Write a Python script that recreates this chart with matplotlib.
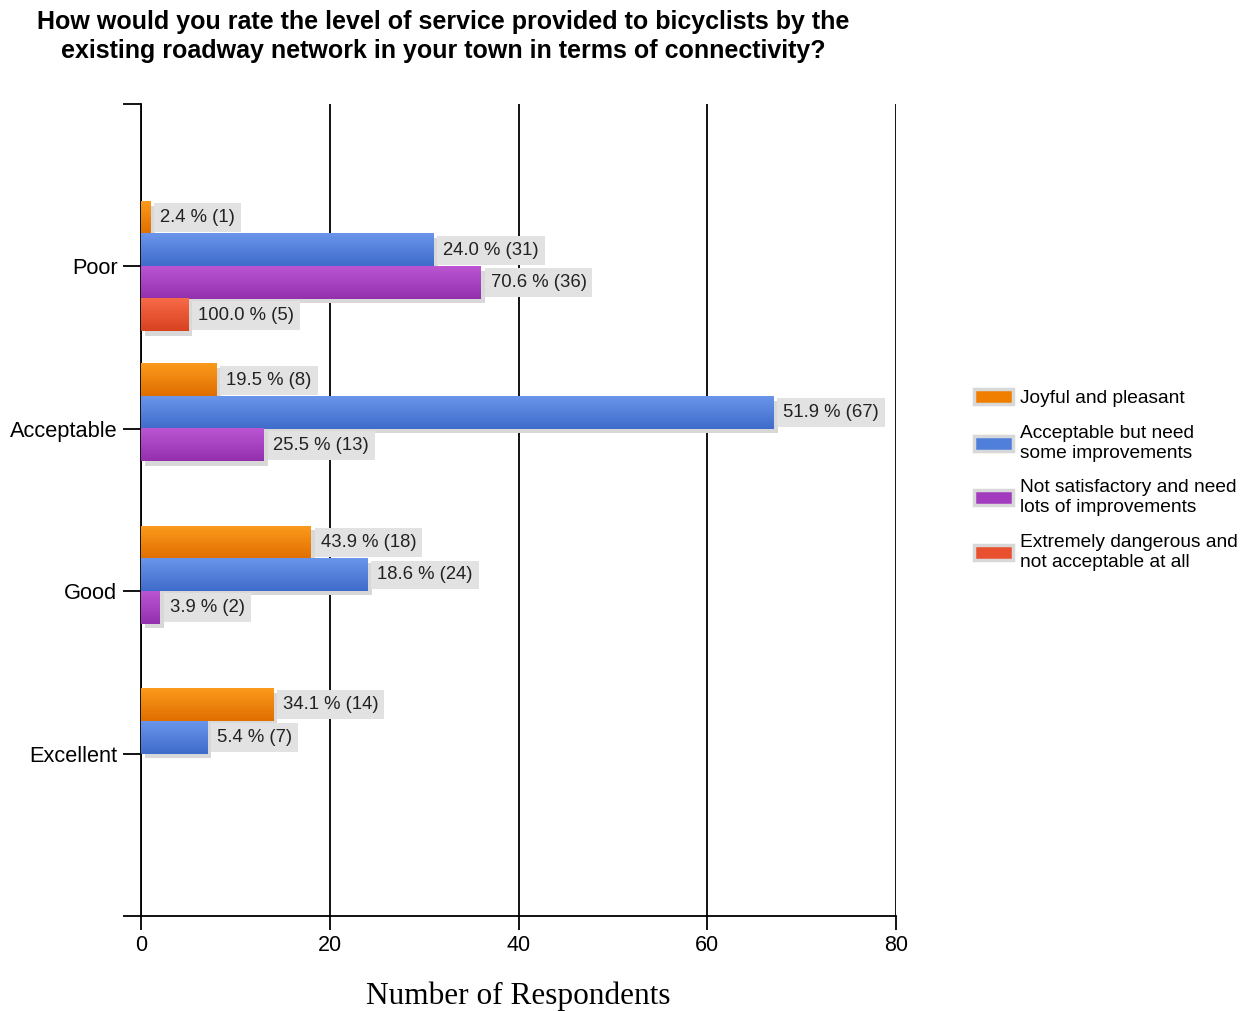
import matplotlib
import matplotlib.pyplot as plt
import matplotlib.patheffects as pe
from matplotlib.patches import Patch
from matplotlib.colors import LinearSegmentedColormap
import numpy as np

plt.switch_backend('agg')

# data
categories = ['Poor', 'Acceptable', 'Good', 'Excellent']
series = ['Joyful and pleasant',
          'Acceptable but need\nsome improvements',
          'Not satisfactory and need\nlots of improvements',
          'Extremely dangerous and\nnot acceptable at all']
counts = [
    [1, 8, 18, 14],    # joyful
    [31, 67, 24, 7],   # acceptable but need some
    [36, 13, 2, 0],    # not satisfactory
    [5, 0, 0, 0],      # extremely dangerous
]
pcts = [
    [2.4, 19.5, 43.9, 34.1],
    [24.0, 51.9, 18.6, 5.4],
    [70.6, 25.5, 3.9, None],
    [100.0, None, None, None],
]
colors = ['#f07f00', '#4f7fdb', '#a33bbf', '#e8502f']
light = ['#fb9a1c', '#6a95ea', '#bb55d2', '#f76a48']
dark = ['#e06e00', '#3f6ccb', '#9330ae', '#d8421f']

fig = plt.figure(figsize=(12.48, 10.11), dpi=100)
ax = fig.add_axes([0.113, 0.094, 0.605, 0.803])

ypos = np.arange(1, len(categories) + 1)
h = 0.2
offs = [-0.3, -0.1, 0.1, 0.3]
shadow = [pe.SimplePatchShadow(offset=(3, -3), shadow_rgbFace='#d8d8d8', alpha=1.0), pe.Normal()]

for i in range(len(series)):
    bars = ax.barh(ypos + offs[i], counts[i], height=h, color=colors[i],
                   edgecolor='none', zorder=3, path_effects=shadow)
    cmap = LinearSegmentedColormap.from_list('g%d' % i, [light[i], dark[i]])
    for j, b in enumerate(bars):
        w = counts[i][j]
        if w > 0:
            y0 = b.get_y()
            # light at top, dark at bottom (y axis is inverted)
            ax.imshow(np.linspace(1, 0, 50).reshape(-1, 1), cmap=cmap, aspect='auto',
                      extent=[0, w, y0, y0 + h], origin='upper', zorder=4)
        if pcts[i][j] is not None:
            ax.annotate('%.1f %% (%d)' % (pcts[i][j], w), xy=(w, ypos[j] + offs[i]),
                        xytext=(7, 0), textcoords='offset points',
                        ha='left', va='center', fontsize=13.3, family='Liberation Sans',
                        color='#222222', zorder=5,
                        bbox=dict(boxstyle='square,pad=0.32', fc='#e2e2e2', ec='none'))

ax.set_xlim(0, 80)
ax.set_ylim(5, 0)
ax.set_xticks([0, 20, 40, 60, 80])
ax.set_yticks([0, 1, 2, 3, 4, 5])
ax.set_yticklabels([''] + categories + [''])
ax.grid(axis='x', color='black', linewidth=1.3, zorder=1)
ax.set_axisbelow(True)
for s in ['top', 'right']:
    ax.spines[s].set_visible(False)
ax.spines['left'].set_linewidth(1.3)
ax.spines['bottom'].set_linewidth(1.3)
ax.tick_params(axis='y', length=13, width=1.3, labelsize=15.7, pad=4)
ax.tick_params(axis='x', length=10, width=1.3, labelsize=15.5, pad=4)
for t in ax.get_xticklabels() + ax.get_yticklabels():
    t.set_family('Liberation Sans')

ax.set_xlabel('Number of Respondents', family='Liberation Serif', fontsize=22.5, labelpad=18)

fig.text(0.355, 0.964, 'How would you rate the level of service provided to bicyclists by the\n'
         'existing roadway network in your town in terms of connectivity?',
         ha='center', va='center', fontsize=18, fontweight='bold',
         family='Liberation Sans', linespacing=1.3)

handles = [Patch(facecolor=c, edgecolor='#d8d8d8', linewidth=2.5) for c in colors]
leg = fig.legend(handles, series, loc='center left', bbox_to_anchor=(0.767, 0.525),
                 frameon=False, prop={'family': 'Liberation Sans', 'size': 13.8},
                 handlelength=2.0, handleheight=0.8, handletextpad=0.35,
                 labelspacing=0.9)
for t in leg.get_texts():
    t.set_linespacing(1.25)

plt.savefig('out.png', dpi=100)
